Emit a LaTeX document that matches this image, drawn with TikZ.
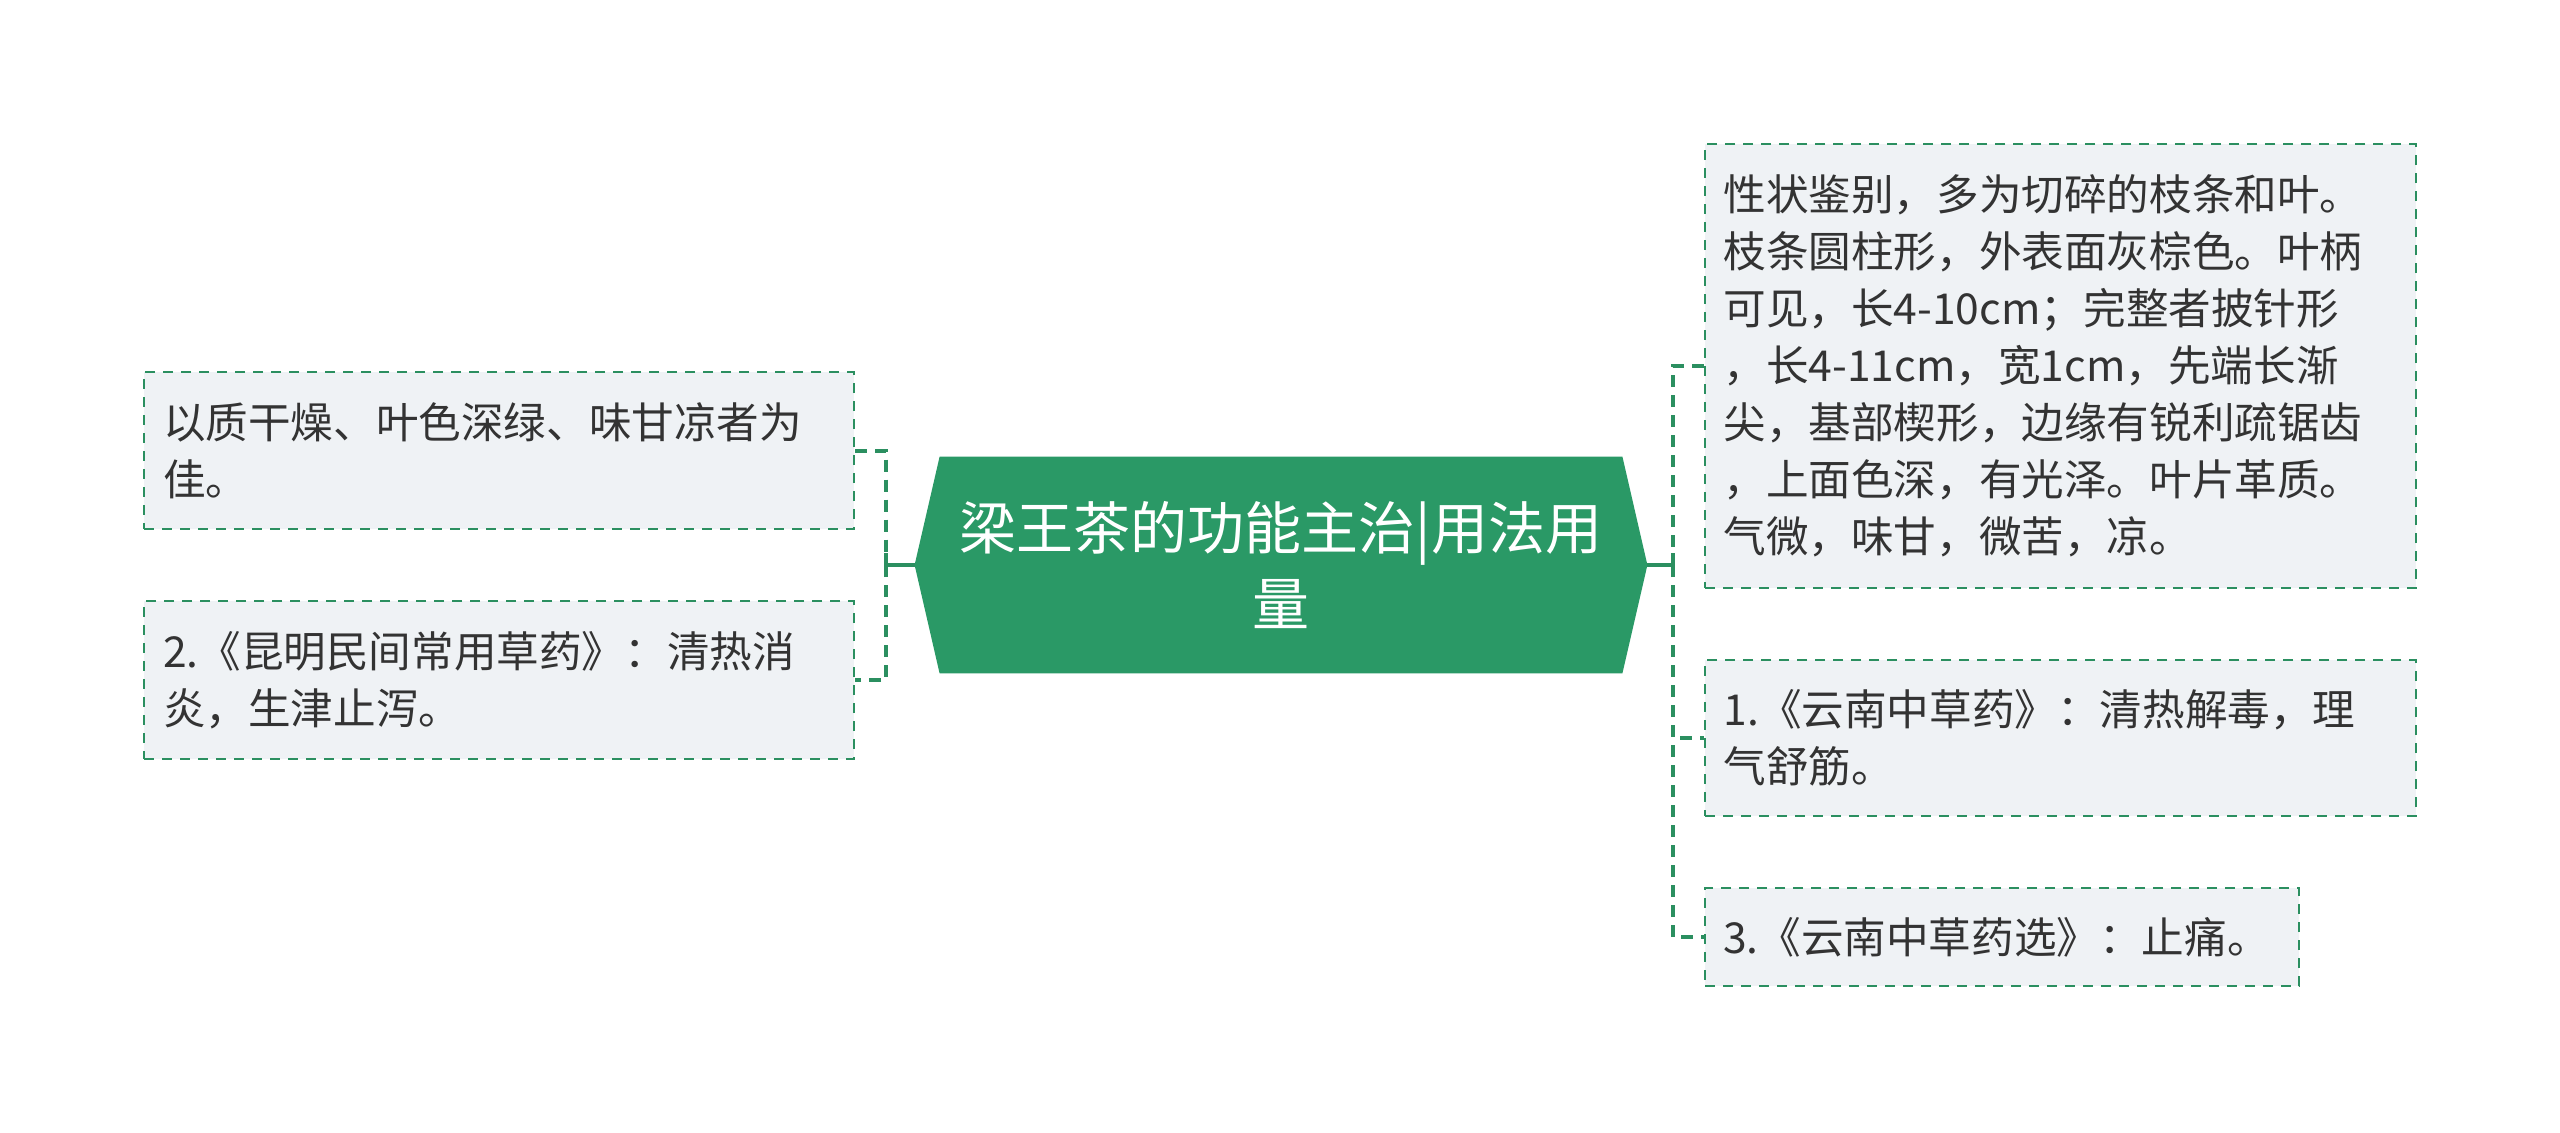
\documentclass[tikz,border=0pt]{standalone}
\usepackage{fontspec}
\setmainfont{Noto Sans CJK SC}
\usetikzlibrary{calc}
\definecolor{mgreen}{HTML}{2A9966}
\definecolor{lgreen}{HTML}{2B8F60}
\definecolor{boxfill}{HTML}{EFF2F5}
\definecolor{txt}{HTML}{333333}
\pgfdeclarelayer{bg}
\pgfsetlayers{bg,main}
\begin{document}
\begin{tikzpicture}[x=0.5pt,y=-0.5pt,
  leaf/.style={draw=lgreen, line width=1.2pt, dash pattern=on 5pt off 4pt,
    fill=boxfill, text=txt, font=\fontsize{21.3pt}{28.5pt}\selectfont,
    align=left, inner sep=0pt, anchor=center},
  centre/.style={text=white, font=\fontsize{28.5pt}{38pt}\selectfont,
    align=center, inner sep=0pt, minimum width=341pt, minimum height=108pt},
  dashconn/.style={draw=lgreen, line width=2pt, dash pattern=on 6pt off 4pt},
  solidconn/.style={draw=lgreen, line width=2pt}
]
\useasboundingbox (0,0) rectangle (2560,1132);

% central topic
\node[centre] (c) at (1281,565) {梁王茶的功能主治|用法用\\量};
\begin{pgfonlayer}{bg}
\fill[white] (0,0) rectangle (2560,1132);
\fill[mgreen] (c.north west) -- (c.north east) -- ($(c.east)+(25,0)$)
  -- (c.south east) -- (c.south west) -- ($(c.west)+(-25,0)$) -- cycle;
\end{pgfonlayer}
\coordinate (cw) at ($(c.west)+(-25,0)$);
\coordinate (ce) at ($(c.east)+(25,0)$);

% left leaves
\node[leaf, minimum width=355pt, minimum height=78.5pt, text width=336pt] (l1) at (499,450.5)
  {以质干燥、叶色深绿、味甘凉者为\\佳。};
\node[leaf, minimum width=355pt, minimum height=79pt, text width=336pt] (l2) at (499,680)
  {2.《昆明民间常用草药》：清热消\\炎，生津止泻。};

% right leaves
\node[leaf, minimum width=355.5pt, minimum height=222pt, text width=337pt] (r1) at (2060.5,366)
  {性状鉴别，多为切碎的枝条和叶。\\枝条圆柱形，外表面灰棕色。叶柄\\可见，长4-10cm；完整者披针形\\，长4-11cm，宽1cm，先端长渐\\尖，基部楔形，边缘有锐利疏锯齿\\，上面色深，有光泽。叶片革质。\\气微，味甘，微苦，凉。};
\node[leaf, minimum width=355.5pt, minimum height=78pt, text width=337pt] (r2) at (2060.5,738)
  {1.《云南中草药》：清热解毒，理\\气舒筋。};
\node[leaf, minimum width=297pt, minimum height=49pt, text width=279pt] (r3) at (2002,937)
  {3.《云南中草药选》：止痛。};

% left connectors
\coordinate (lb) at (886,565);
\draw[solidconn] (cw) -- (lb);
\draw[solidconn] ([yshift=-6pt]lb) -- ([yshift=6pt]lb);
\draw[dashconn] (l1.east) -| (lb);
\draw[dashconn] (lb) |- (l2.east);

% right connectors
\coordinate (rb) at (1673,565);
\draw[solidconn] (ce) -- (rb);
\draw[solidconn] ([yshift=-6pt]rb) -- ([yshift=6pt]rb);
\draw[dashconn] (r1.west) -| (rb);
\draw[dashconn] (rb) |- (r2.west);
\draw[dashconn] (rb) |- (r3.west);
\end{tikzpicture}
\end{document}
